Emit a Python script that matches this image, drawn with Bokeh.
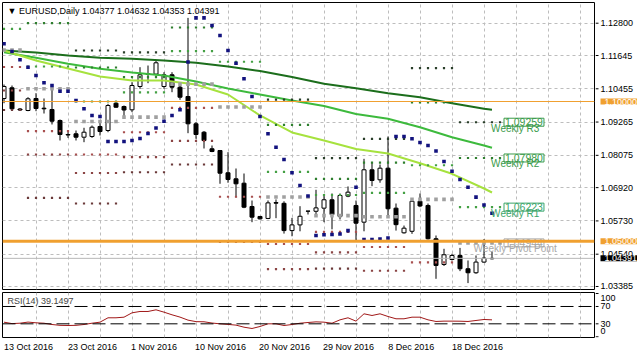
from bokeh.plotting import figure
from bokeh.models import Range1d, FixedTicker, LinearAxis, Grid, Span, Label
from bokeh.core.properties import value
from bokeh.layouts import column, row
from bokeh.embed import file_html
from bokeh.resources import INLINE

# ---------------- data ----------------
symbol = "EURUSD,Daily"
last_bar = ["1.04377", "1.04632", "1.04353", "1.04391"]
rsi_title = "RSI(14) 39.1497"

opens = [1.10108, 1.10490, 1.09732, 1.09678, 1.10108, 1.09761, 1.09714, 1.09321, 1.08820, 1.08845,
         1.08724, 1.08749, 1.09106, 1.08963, 1.09939, 1.09821, 1.09703, 1.10537, 1.10991, 1.10980,
         1.10537, 1.10955, 1.10512, 1.10179, 1.09203, 1.08902, 1.08309, 1.08248, 1.07451, 1.07236,
         1.07079, 1.06246, 1.05889, 1.05818, 1.06385, 1.06360, 1.05384, 1.05588, 1.06082, 1.06075,
         1.06186, 1.06486, 1.05889, 1.06615, 1.06282, 1.05685, 1.07558, 1.07200, 1.07615, 1.06186,
         1.05305, 1.05359, 1.06432, 1.06282, 1.05092, 1.04172, 1.04351, 1.04494, 1.04019, 1.03876,
         1.04258, 1.04377]
highs = [1.10608, 1.10572, 1.09768, 1.10154, 1.10297, 1.10108, 1.10512, 1.09357, 1.08902, 1.08963,
         1.09060, 1.09142, 1.09321, 1.09918, 1.09975, 1.09857, 1.10690, 1.11227, 1.11287, 1.11466,
         1.11048, 1.11048, 1.10572, 1.12990, 1.09262, 1.08945, 1.08427, 1.08266, 1.08188, 1.07604,
         1.07425, 1.06460, 1.05900, 1.06461, 1.06497, 1.06432, 1.05839, 1.06257, 1.06085, 1.06843,
         1.06640, 1.06711, 1.06711, 1.06962, 1.06460, 1.07951, 1.07833, 1.07747, 1.08749, 1.06353,
         1.05564, 1.06529, 1.06711, 1.06353, 1.05208, 1.04733, 1.04555, 1.04765, 1.04315, 1.04494,
         1.05080, 1.04632]
lows = [1.09939, 1.09714, 1.09678, 1.09653, 1.09653, 1.09571, 1.09178, 1.08606, 1.08700, 1.08606,
        1.08545, 1.08700, 1.08784, 1.08902, 1.09775, 1.09439, 1.09618, 1.10454, 1.10655, 1.10930,
        1.10454, 1.10333, 1.10061, 1.08867, 1.08667, 1.08320, 1.08188, 1.07059, 1.07095, 1.06570,
        1.06186, 1.05685, 1.05782, 1.05793, 1.05828, 1.05277, 1.05181, 1.05359, 1.05959, 1.05873,
        1.05685, 1.05429, 1.05782, 1.06579, 1.05030, 1.05359, 1.06972, 1.07095, 1.05889, 1.05384,
        1.05277, 1.05267, 1.06221, 1.05067, 1.03660, 1.04119, 1.04315, 1.03935, 1.03506, 1.03840,
        1.04236, 1.04353]
closes = [1.10537, 1.09739, 1.09696, 1.10097, 1.09750, 1.09739, 1.09296, 1.08820, 1.08802, 1.08724,
          1.08902, 1.09081, 1.08927, 1.09857, 1.09796, 1.09696, 1.10572, 1.10955, 1.10969, 1.11384,
          1.10955, 1.10512, 1.10154, 1.09203, 1.08820, 1.08606, 1.08213, 1.07437, 1.07211, 1.07057,
          1.06221, 1.05864, 1.05803, 1.06375, 1.06365, 1.05384, 1.05588, 1.05896, 1.06078, 1.06196,
          1.06486, 1.05959, 1.06640, 1.06758, 1.05649, 1.07558, 1.07175, 1.07615, 1.06164, 1.05596,
          1.05470, 1.06432, 1.06264, 1.05092, 1.04137, 1.04519, 1.04494, 1.04019, 1.03876, 1.04258,
          1.04401, 1.04391]

sar = [1.12064, 1.11788, 1.11491, 1.11227, 1.10930, 1.10669, 1.10572, 1.10369, 1.10369, 1.10036,
       1.09739, 1.09500, 1.09464, 1.08570, 1.08570, 1.08570, 1.08606, 1.08677, 1.08856, 1.09053,
       1.09296, 1.09500, 1.09703, 1.11413, 1.12990, 1.12990, 1.12718, 1.12360, 1.11824, 1.11370,
       1.10812, 1.10179, 1.09464, 1.08845, 1.08366, 1.07926, 1.07451, 1.06996, 1.06621, 1.05208,
       1.05233, 1.05244, 1.05262, 1.05384, 1.06936, 1.05067, 1.05067, 1.05083, 1.05119, 1.08749,
       1.08749, 1.08667, 1.08534, 1.08427, 1.08230, 1.07855, 1.07508, 1.07211, 1.06936, 1.06579,
       1.06299, 1.06006]

ma_idx = [0, 4, 8, 12, 16, 20, 24, 28, 32, 36, 40, 44, 48, 52, 56, 60, 61]
ma_slow = [1.11824, 1.11752, 1.11645, 1.11563, 1.11527, 1.11466, 1.11384, 1.11252, 1.11091, 1.10876,
           1.10633, 1.10476, 1.10297, 1.10154, 1.09939, 1.09739, 1.09703]
ma_mid = [1.11763, 1.11563, 1.11348, 1.11170, 1.11037, 1.10930, 1.10715, 1.10465, 1.10251, 1.10036,
          1.09839, 1.09553, 1.09382, 1.09081, 1.08724, 1.08427, 1.08345]
ma_fast = [1.11824, 1.11466, 1.11180, 1.10894, 1.10751, 1.10751, 1.10608, 1.10251, 1.09500, 1.08892,
           1.08606, 1.08302, 1.08141, 1.07794, 1.07415, 1.06889, 1.06746]

rsi = [33.8, 30.5, 31.4, 34.0, 32.3, 31.4, 28.4, 26.5, 26.1, 26.5, 28.4, 31.4, 33.8, 43.9, 43.9,
       45.3, 55.4, 58.5, 58.5, 62.3, 56.9, 50.8, 45.5, 38.5, 35.0, 34.7, 31.8, 30.0, 28.6, 27.0,
       22.2, 19.2, 23.8, 30.0, 30.0, 26.1, 28.4, 31.4, 33.0, 34.5, 33.8, 31.4, 39.2, 43.9, 36.2,
       53.1, 49.2, 53.1, 46.9, 41.6, 41.6, 45.3, 45.3, 39.2, 35.4, 36.2, 36.2, 36.0, 35.4, 37.7,
       40.0, 39.15]
rsi_levels = [30, 70]
rsi_scale_values = [100, 70, 30, 0]
rsi_scale_labels = ["100", "70", "30", "0"]

# weekly pivot levels (one value per week, None = outside the view)
week_first = [0, 3, 9, 15, 21, 27, 33, 39, 45, 51, 57]
week_last = [2, 8, 14, 20, 26, 32, 38, 44, 50, 56, 62]
piv_p = [1.11842, 1.10454, 1.09285, 1.09440, 1.10620, 1.09805, 1.06585, 1.05919, 1.05880, 1.06499, 1.04944]
piv_r1 = [1.12599, 1.11252, 1.10000, 1.10330, 1.11800, 1.11422, 1.07485, 1.06657, 1.06730, 1.07721, 1.06223]
piv_r2 = [None, 1.12800, 1.11216, 1.10870, 1.12647, None, 1.09166, 1.07235, 1.07812, 1.09971, 1.07980]
piv_r3 = [None, None, 1.11824, 1.11760, None, None, 1.10066, 1.07973, 1.08662, 1.11193, 1.09259]
piv_s1 = [1.11234, 1.08938, 1.08105, 1.08900, 1.09774, 1.06595, 1.04904, 1.05341, 1.04798, 1.04249, None]
piv_s2 = [1.10394, 1.08105, 1.07443, 1.08010, 1.08593, 1.04978, 1.04004, 1.04603, 1.03948, None, None]
piv_s3 = [1.09696, 1.06557, 1.06353, 1.07470, 1.07747, None, None, 1.04025, None, None, None]
current_labels = ["Weekly R3", "Weekly R2", "Weekly R1", "Weekly Pivot Point"]

date_idx = [0, 8, 16, 24, 32, 40, 48, 56]
date_labels = ["13 Oct 2016", "23 Oct 2016", "1 Nov 2016", "10 Nov 2016",
               "20 Nov 2016", "29 Nov 2016", "8 Dec 2016", "18 Dec 2016"]

price_ticks = [1.03385, 1.04540, 1.05730, 1.06920, 1.08075, 1.09265, 1.10455, 1.11645, 1.12800]
price_tick_labels = ["1.03385", "1.04540", "1.05730", "1.06920", "1.08075",
                     "1.09265", "1.10455", "1.11645", "1.12800"]
level_high = 1.10000
level_low = 1.05000
bid = 1.04391

# ---------------- styling ----------------
FONT = "Liberation Sans"
ORANGE = "#f0a030"
GRID = "#bdbdbd"
X0, X1 = -0.1875, 73.8125
Y0, Y1 = 1.032774, 1.135405
label_shift = [3.05, 3.05, 2.75, 3.05, 3.05, 3.05, 2.9, 3.2]
rsi_label_nudge = [-11.5, 0, 0, 13.0]   # end labels of the RSI scale sit inside the panel
TEXT_X = 600                            # strip x where scale labels start

n = len(opens)
idx = list(range(n))
grid_ticks = list(range(4, 76, 4))


def strip_figure(height, y_range, top, bottom):
    s = figure(width=42, height=height, x_range=Range1d(595, 637), y_range=y_range,
               output_backend="svg", toolbar_location=None, x_axis_location=None,
               y_axis_location=None, min_border_left=0, min_border_right=0,
               min_border_top=top, min_border_bottom=bottom)
    s.outline_line_color = None
    s.grid.visible = False
    return s


# ---------------- main price panel ----------------
p = figure(width=595, height=290, x_range=Range1d(X0, X1), y_range=Range1d(Y0, Y1),
           output_backend="svg", toolbar_location=None, x_axis_location=None,
           y_axis_location=None, min_border_left=2, min_border_right=1,
           min_border_top=2, min_border_bottom=1)
p.outline_line_color = "black"
p.outline_line_alpha = 1
p.grid.visible = False

p.add_layout(Grid(dimension=0, ticker=FixedTicker(ticks=grid_ticks),
                  grid_line_color=GRID, grid_line_dash="3 3"))
p.add_layout(Grid(dimension=1, ticker=FixedTicker(ticks=price_ticks),
                  grid_line_color=GRID, grid_line_dash="3 3"))

p.add_layout(Span(location=bid, dimension="width", line_color="#b8b8b8", line_width=1))

bull = [i for i in idx if closes[i] >= opens[i]]
bear = [i for i in idx if closes[i] < opens[i]]
p.segment(x0=idx, y0=lows, x1=idx, y1=highs, line_color="black", line_width=1)
p.vbar(x=bull, width=0.5, bottom=[opens[i] for i in bull], top=[closes[i] for i in bull],
       fill_color="white", line_color="black", line_width=1)
p.vbar(x=bear, width=0.5, top=[opens[i] for i in bear], bottom=[closes[i] for i in bear],
       fill_color="black", line_color="black", line_width=1)

p.line(ma_idx, ma_slow, line_color="#1c6e1c", line_width=2)
p.line(ma_idx, ma_mid, line_color="#3dba3d", line_width=2)
p.line(ma_idx, ma_fast, line_color="#a6e23e", line_width=2)

levels = [(piv_r3, "#2a3f2a", 2.2), (piv_r2, "#2f7f2f", 2.2), (piv_r1, "#44a044", 2.2),
          (piv_s1, "#a85050", 2.2), (piv_s2, "#8b4545", 2.2), (piv_s3, "#6b3a3a", 2.2),
          (piv_p, "#a0a0a0", 3.6)]
for vals, color, size in levels:
    xs, ys = [], []
    for w, v in enumerate(vals):
        if v is None:
            continue
        for b in range(week_first[w], week_last[w] + 1):
            xs.append(b)
            ys.append(v)
    p.scatter(xs, ys, marker="square", size=size, fill_color=color, line_color=None)

p.scatter(idx, sar, marker="square", size=3.6, fill_color="#12127e", line_color=None)

cur = [(piv_r3[-1], "#3a9a4a", current_labels[0]), (piv_r2[-1], "#3a9a4a", current_labels[1]),
       (piv_r1[-1], "#3aa56a", current_labels[2]), (piv_p[-1], "#a8a8a8", current_labels[3])]
for val, col, txt in cur:
    p.add_layout(Label(x=62.5, y=val, text=f"{val:.5f}", text_color=col, text_font=FONT,
                       text_font_size="10.5px", text_align="left", text_baseline="middle",
                       background_fill_color="white", border_line_color=col,
                       padding=dict(left=1, right=1, top=0, bottom=0)))
    p.add_layout(Label(x=63.9, y=val, y_offset=-6, text=txt, text_color=col, text_font=FONT,
                       text_font_size="10px", text_align="center", text_baseline="middle"))

p.add_layout(Span(location=level_high, dimension="width", line_color=ORANGE, line_width=1))
p.add_layout(Span(location=level_low, dimension="width", line_color=ORANGE, line_width=3))

p.add_layout(Label(x=0.44, y=1.13254, text="\u25bc " + symbol + " " + " ".join(last_bar),
                   text_font=FONT, text_font_size="9px", text_color="black",
                   text_align="left", text_baseline="middle"))

# price scale strip (ticks + labels through the shared price scale)
ps = strip_figure(290, p.y_range, 2, 1)
ps.segment(x0=[595] * len(price_ticks), y0=price_ticks, x1=[598] * len(price_ticks),
           y1=price_ticks, line_color="black", line_width=1)
ps.text(x=[TEXT_X] * len(price_ticks), y=price_ticks, text=price_tick_labels,
        text_font=value(FONT), text_font_size="9px", text_color="black",
        text_align="left", text_baseline="middle")
for val, bg in [(level_high, ORANGE), (level_low, ORANGE), (bid, "black")]:
    ps.add_layout(Label(x=TEXT_X, y=val, text=f"{val:.5f}", text_color="white",
                        text_font=FONT, text_font_size="9px", text_align="left",
                        text_baseline="middle", background_fill_color=bg,
                        padding=dict(left=4, right=5, top=0, bottom=0)))

# ---------------- RSI panel ----------------
r = figure(width=595, height=68, x_range=p.x_range, y_range=Range1d(-1.6, 102.3),
           output_backend="svg", toolbar_location=None, x_axis_location=None,
           y_axis_location=None, min_border_left=2, min_border_right=1,
           min_border_top=2, min_border_bottom=21)
r.outline_line_color = "black"
r.outline_line_alpha = 1
r.grid.visible = False
r.add_layout(Grid(dimension=0, ticker=FixedTicker(ticks=grid_ticks),
                  grid_line_color=GRID, grid_line_dash="3 3"))
for lv in rsi_levels:
    r.add_layout(Span(location=lv, dimension="width", line_color="black",
                      line_width=1, line_dash="13 5"))
r.line(idx, rsi, line_color="#a01818", line_width=1)
r.add_layout(Label(x=0.44, y=83.8, text=rsi_title, text_font=FONT, text_font_size="9px",
                   text_align="left", text_baseline="middle"))

label_pos = [d + s for d, s in zip(date_idx, label_shift)]
label_axis = LinearAxis(ticker=FixedTicker(ticks=label_pos),
                        major_label_overrides=dict(zip(label_pos, date_labels)),
                        axis_line_color=None, major_tick_out=0, major_tick_in=0,
                        minor_tick_out=0, minor_tick_in=0, major_label_standoff=4,
                        major_label_text_font=FONT, major_label_text_font_size="9px",
                        major_label_text_color="black")
r.add_layout(label_axis, "below")

rs = strip_figure(68, r.y_range, 2, 21)
rs.segment(x0=[595] * 4, y0=rsi_scale_values, x1=[598] * 4, y1=rsi_scale_values,
           line_color="black", line_width=1)
rs.text(x=[TEXT_X] * 4, y=[v + d for v, d in zip(rsi_scale_values, rsi_label_nudge)],
        text=rsi_scale_labels, text_font=value(FONT), text_font_size="9px",
        text_color="black", text_align="left", text_baseline="middle")

layout = column(row(p, ps, spacing=0), row(r, rs, spacing=0), spacing=0)
open("out.html", "w").write(file_html(layout, INLINE))
